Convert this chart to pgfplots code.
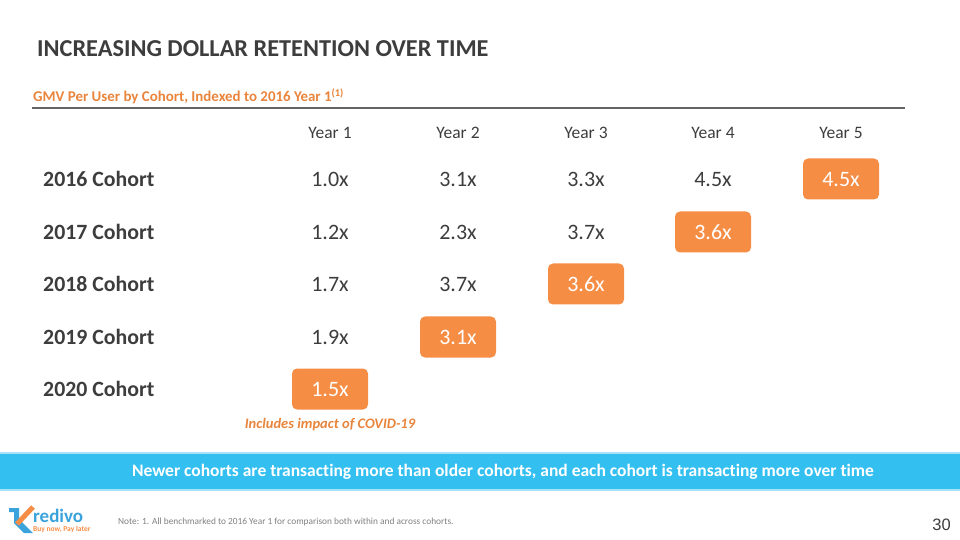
\documentclass[border=0pt]{standalone}
\usepackage{pgfplots}
\pgfplotsset{compat=1.18}
\usepackage{pgfplotstable}
\usepackage{fontspec}
\setmainfont{Carlito}[RawFeature={-liga;-dlig;-calt}]
\newfontfamily\arialf{Liberation Sans}
\definecolor{korange}{HTML}{F68D45}
\definecolor{ksub}{HTML}{E8843C}
\definecolor{kblue}{HTML}{33BFF0}
\definecolor{kblueline}{HTML}{A6E3FA}
\definecolor{ktext}{HTML}{3D3D3D}
\definecolor{klogo}{HTML}{3BA3DC}
\newcommand{\fs}[1]{\fontsize{#1bp}{#1bp}\selectfont}
% x = column centre (px), y = row centre (px), v = value
\pgfplotstableread{
x y v
330 179 1.0x
458 179 3.1x
586 179 3.3x
713 179 4.5x
330 232 1.2x
458 232 2.3x
586 232 3.7x
330 284 1.7x
458 284 3.7x
330 337 1.9x
}\plain
\pgfplotstableread{
x y v
841 179 4.5x
713 232 3.6x
586 284 3.6x
458 337 3.1x
330 389 1.5x
}\highlight
\begin{document}
\begin{tikzpicture}
\begin{axis}[
  width=960bp, height=540bp, scale only axis,
  xmin=0, xmax=960, ymin=0, ymax=540, y dir=reverse,
  hide axis, clip=false,
]
\path (axis cs:0,0) rectangle (axis cs:960,540);
% title
\node[anchor=west, text=ktext, font=\fs{24.3}\bfseries, inner sep=0pt] at (axis cs:37,49) {INCREASING DOLLAR RETENTION OVER TIME};
\node[anchor=west, text=ksub, font=\fs{14.9}\bfseries, inner sep=0pt] at (axis cs:33,96) {GMV Per User by Cohort, Indexed to 2016 Year 1\textsuperscript{(1)}};
\draw[ktext!80, line width=1.3bp] (axis cs:32,108) -- (axis cs:905,108);
% headers
\node[text=ktext, font=\fs{17.5}] at (axis cs:330,133) {Year 1};
\node[text=ktext, font=\fs{17.5}] at (axis cs:458,133) {Year 2};
\node[text=ktext, font=\fs{17.5}] at (axis cs:586,133) {Year 3};
\node[text=ktext, font=\fs{17.5}] at (axis cs:713,133) {Year 4};
\node[text=ktext, font=\fs{17.5}] at (axis cs:841,133) {Year 5};
% row labels
\node[anchor=west, text=ktext, font=\fs{21.8}\bfseries, inner sep=0pt] at (axis cs:43,179) {2016 Cohort};
\node[anchor=west, text=ktext, font=\fs{21.8}\bfseries, inner sep=0pt] at (axis cs:43,232) {2017 Cohort};
\node[anchor=west, text=ktext, font=\fs{21.8}\bfseries, inner sep=0pt] at (axis cs:43,284) {2018 Cohort};
\node[anchor=west, text=ktext, font=\fs{21.8}\bfseries, inner sep=0pt] at (axis cs:43,337) {2019 Cohort};
\node[anchor=west, text=ktext, font=\fs{21.8}\bfseries, inner sep=0pt] at (axis cs:43,389) {2020 Cohort};
% highlighted boxes
\addplot[only marks, mark=none, nodes near coords, point meta=explicit symbolic,
  every node near coord/.append style={anchor=center, fill=korange, rounded corners=5bp,
    minimum width=76bp, minimum height=41bp, text=white, font=\fs{22}, inner sep=0pt,
    text height=15bp, text depth=0pt}]
  table[x=x, y=y, meta=v] {\highlight};
% plain values
\addplot[only marks, mark=none, nodes near coords, point meta=explicit symbolic,
  every node near coord/.append style={anchor=center, text=ktext, font=\fs{22}, inner sep=0pt,
    text height=15bp, text depth=0pt}]
  table[x=x, y=y, meta=v] {\plain};
\node[text=ksub, font=\fs{14.5}\bfseries\itshape] at (axis cs:330,425) {Includes impact of COVID-19};
% banner
\fill[kblueline] (axis cs:0,452) rectangle (axis cs:960,491);
\fill[kblue] (axis cs:0,454) rectangle (axis cs:960,489);
\node[text=white, font=\fs{17.5}\bfseries] at (axis cs:503,471.5) {Newer cohorts are transacting more than older cohorts, and each cohort is transacting more over time};
% footer logo
\fill[klogo] (axis cs:9,508) -- (axis cs:19,508) -- (axis cs:19,519) -- (axis cs:33,533) -- (axis cs:24,533) -- (axis cs:14,523) -- (axis cs:14,512) -- (axis cs:9,512) -- cycle;
\draw[korange, line width=5bp] (axis cs:33,507) -- (axis cs:17,524);
\node[anchor=west, text=klogo, font=\fs{19}\bfseries, inner sep=0pt] at (axis cs:33,516) {redivo};
\node[anchor=west, text=korange, font=\fs{7.5}\bfseries, inner sep=0pt] at (axis cs:33,529.5) {Buy now, Pay later};
\node[anchor=west, text=gray, font=\fs{9.35}, inner sep=0pt] at (axis cs:118,522) {Note: 1. All benchmarked to 2016 Year 1 for comparison both within and across cohorts.};
\node[text=ktext, font=\arialf\fs{16.5}] at (axis cs:941.5,525) {30};
\end{axis}
\end{tikzpicture}
\end{document}
